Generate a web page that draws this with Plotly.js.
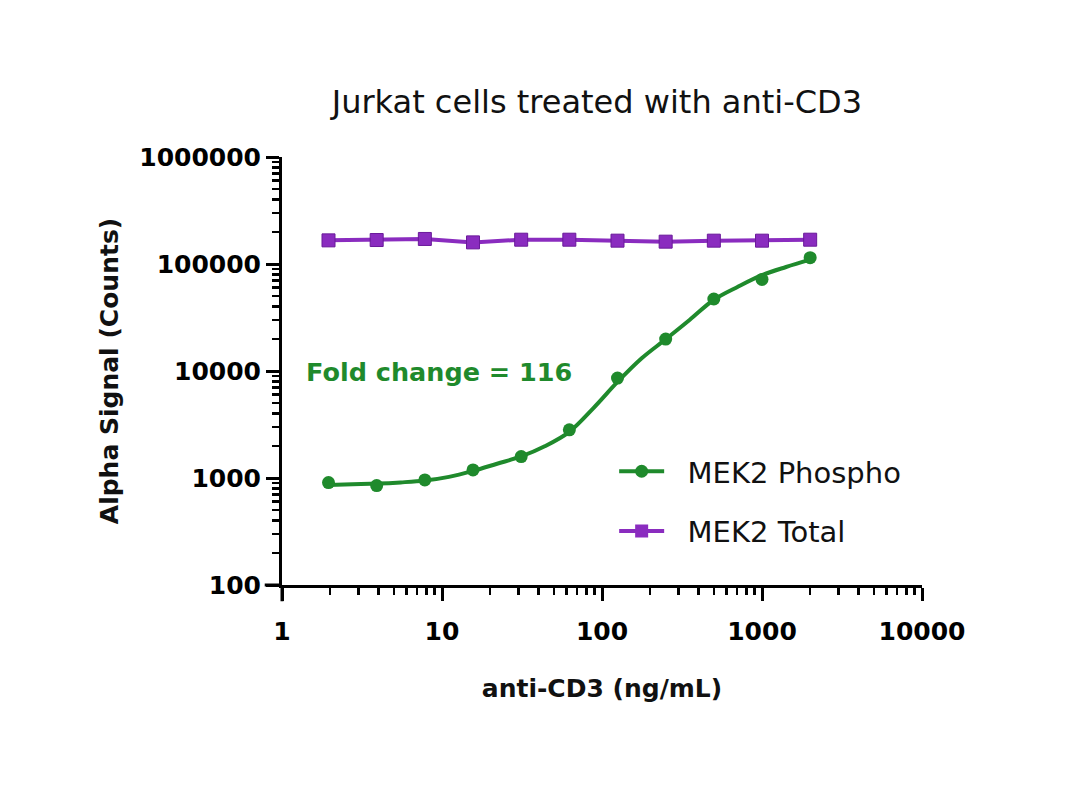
<!DOCTYPE html>
<html>
<head>
<meta charset="utf-8">
<script src="https://cdn.plot.ly/plotly-3.0.1.min.js"></script>
<style>html,body{margin:0;padding:0;background:#fff;}#chart{width:1080px;height:795px;}</style>
</head>
<body>
<div id="chart"></div>
<script>
// anti-CD3 concentrations (ng/mL)
const doses = [1.953, 3.906, 7.8125, 15.625, 31.25, 62.5, 125, 250, 500, 1000, 2000];
// Measured signals (counts)
const phosphoValues = [906, 849, 960, 1191, 1585, 2818, 8590, 19880, 47100, 71800, 114500];
const totalValues = [166300, 167500, 171400, 159200, 168700, 168700, 165200, 161700, 165200, 165200, 168700];
// Fitted curve
const curveDoses = [1.953, 2.76, 3.906, 5.52, 7.8125, 11.05, 15.625, 22.1, 31.25, 44.2, 62.5, 88.4, 125, 177, 250, 354, 500, 707, 1000, 1414, 2000];
const curveValues = [862, 875, 887, 910, 946, 1024, 1165, 1360, 1590, 1990, 2700, 4500, 7900, 13150, 19790, 30120, 46340, 61330, 78580, 93760, 109700];
// Axis tick labels
const xTickVals = [1, 10, 100, 1000, 10000];
const xTickText = ['1', '10', '100', '1000', '10000'];
const yTickVals = [100, 1000, 10000, 100000, 1000000];
const yTickText = ['100', '1000', '10000', '100000', '1000000'];
const seriesNames = ['MEK2 Phospho', 'MEK2 Total'];

const green = '#1f8a2c';
const purple = '#8a2cbf';
const tickFont = {family: 'DejaVu Sans, sans-serif', size: 25, color: '#000', weight: 700};
const pad = '\u00a0\u00a0';

const traces = [
  {x: curveDoses, y: curveValues, mode: 'lines', line: {color: green, width: 4, shape: 'spline', smoothing: 1}, showlegend: false, hoverinfo: 'skip'},
  {x: doses, y: phosphoValues, mode: 'markers', marker: {color: green, size: 13, symbol: 'circle'}, showlegend: false},
  {x: doses, y: totalValues, mode: 'lines+markers', line: {color: purple, width: 4}, marker: {color: purple, size: 13, symbol: 'square', line: {color: '#6a1a9a', width: 1}}, showlegend: false},
  {x: [null], y: [null], name: pad + seriesNames[0], mode: 'lines+markers', line: {color: green, width: 4}, marker: {color: green, size: 13, symbol: 'circle'}, legendgroup: 'a'},
  {x: [null], y: [null], name: pad + seriesNames[1], mode: 'lines+markers', line: {color: purple, width: 4}, marker: {color: purple, size: 13, symbol: 'square'}, legendgroup: 'b'}
];

const axisCommon = {
  type: 'log', showgrid: false, zeroline: false,
  showline: true, linecolor: '#000', linewidth: 3,
  ticks: 'outside', ticklen: 13, tickwidth: 3, tickcolor: '#000',
  tickfont: tickFont, tickmode: 'array',
  minor: {ticks: 'outside', ticklen: 7, tickwidth: 2.5, tickcolor: '#000', dtick: 'D1', showgrid: false}
};

const layout = {
  width: 1080, height: 795,
  margin: {l: 282, r: 158, t: 157, b: 210},
  paper_bgcolor: '#fff', plot_bgcolor: '#fff',
  title: {text: 'Jurkat cells treated with anti-CD3', x: 0.492, xref: 'paper', y: 1 - 102/795, yref: 'container', yanchor: 'middle',
          font: {family: 'DejaVu Sans, sans-serif', size: 32, color: '#111'}},
  xaxis: Object.assign({}, axisCommon, {
    range: [0, 4], tickvals: xTickVals, ticktext: xTickText, ticklabelstandoff: 9,
    title: {text: 'anti-CD3 (ng/mL)', standoff: 35, font: {family: 'DejaVu Sans, sans-serif', size: 25, color: '#111', weight: 700}}
  }),
  yaxis: Object.assign({}, axisCommon, {
    range: [2, 6], tickvals: yTickVals, ticktext: yTickText,
    title: {text: 'Alpha Signal (Counts)', standoff: 14, font: {family: 'DejaVu Sans, sans-serif', size: 25, color: '#111', weight: 700}}
  }),
  legend: {x: 0.519, xanchor: 'left', y: 0.325, yanchor: 'top', bgcolor: 'rgba(0,0,0,0)',
           font: {family: 'DejaVu Sans, sans-serif', size: 29, color: '#111'},
           traceorder: 'grouped', tracegroupgap: 19, itemwidth: 45},
  annotations: [{text: 'Fold change = 116', xref: 'paper', yref: 'paper', x: 0.035, y: 0.498, xanchor: 'left', yanchor: 'middle',
                 showarrow: false, font: {family: 'DejaVu Sans, sans-serif', size: 25.5, color: green, weight: 700}}],
  shapes: [
    {type: 'line', xref: 'paper', yref: 'paper', x0: 0, x1: 0, y0: 0, y1: -0.038, line: {color: '#000', width: 3}},
    {type: 'line', xref: 'paper', yref: 'paper', x0: 0, x1: -0.027, y0: 0, y1: 0, line: {color: '#000', width: 3}}
  ]
};

Plotly.newPlot('chart', traces, layout, {displayModeBar: false, staticPlot: true});
</script>
</body>
</html>
